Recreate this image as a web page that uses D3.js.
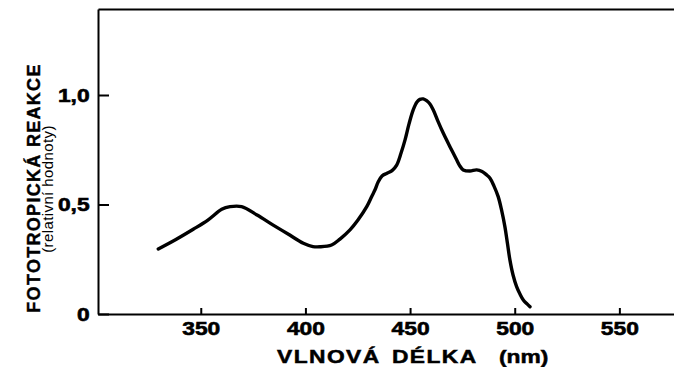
<!DOCTYPE html>
<html>
<head>
<meta charset="utf-8">
<script src="https://cdn.jsdelivr.net/npm/d3@7"></script>
<style>
  html, body { margin: 0; padding: 0; background: #fff; }
  svg { display: block; }
  text { font-family: "Liberation Sans", Arial, Helvetica, sans-serif; fill: #000; }
</style>
</head>
<body>
<svg id="chart" width="674" height="367"></svg>
<script>
// Phototropic response spectrum (relative values) vs. wavelength in nm
const wavelength = [329.7, 337.7, 346.4, 353.4, 360.0, 364.0, 369.5, 376.9, 384.6, 391.7,
  399.0, 403.6, 407.0, 412.5, 416.5, 421.3, 425.1, 429.3, 431.8, 433.2,
  434.8, 436.6, 438.8, 441.4, 443.6, 445.7, 447.6, 449.5, 451.5, 453.3,
  454.7, 456.3, 457.9, 459.5, 461.1, 463.3, 465.9, 469.1, 472.3, 473.8,
  475.4, 478.6, 481.8, 484.4, 486.6, 488.2, 490.1, 492.1, 493.7, 495.3,
  496.5, 497.7, 499.2, 500.9, 502.5, 504.1, 505.9, 507.3];
const response = [0.297, 0.338, 0.387, 0.429, 0.478, 0.490, 0.490, 0.452, 0.406, 0.365,
  0.323, 0.308, 0.307, 0.315, 0.342, 0.384, 0.429, 0.490, 0.539, 0.566,
  0.604, 0.630, 0.642, 0.655, 0.680, 0.735, 0.795, 0.868, 0.932, 0.968,
  0.980, 0.982, 0.974, 0.959, 0.932, 0.881, 0.825, 0.763, 0.703, 0.676,
  0.658, 0.653, 0.658, 0.651, 0.635, 0.620, 0.584, 0.536, 0.475, 0.399,
  0.324, 0.247, 0.178, 0.125, 0.091, 0.064, 0.046, 0.033];

const xTickValues = [350, 400, 450, 500, 550];
const xTickLabels = ["350", "400", "450", "500", "550"];
const yTickValues = [0, 0.5, 1.0];
const yTickLabels = ["0", "0,5", "1,0"];

const svg = d3.select("#chart");
const plotLeft = 98, plotRight = 674, plotTop = 9, plotBottom = 314;

const x = d3.scaleLinear().domain([300.9, 576.1]).range([plotLeft, plotRight]);
const y = d3.scaleLinear().domain([0, 1.3927]).range([plotBottom, plotTop]);

// Frame: left axis, bottom axis, top border
svg.append("g")
  .attr("transform", `translate(0,${plotBottom})`)
  .call(d3.axisBottom(x)
    .tickValues(xTickValues)
    .tickFormat((d, i) => xTickLabels[i])
    .tickSizeInner(-6).tickSizeOuter(0).tickPadding(8));

svg.append("g")
  .attr("transform", `translate(${plotLeft},0)`)
  .call(d3.axisLeft(y)
    .tickValues(yTickValues)
    .tickFormat((d, i) => yTickLabels[i])
    .tickSizeInner(-11).tickSizeOuter(0).tickPadding(7));

svg.append("g")
  .attr("transform", `translate(0,${plotTop})`)
  .call(d3.axisTop(x).tickValues([]).tickSizeOuter(0));

svg.selectAll(".domain").attr("stroke", "#000").attr("stroke-width", 2);
svg.selectAll(".tick line").attr("stroke", "#000").attr("stroke-width", 2);
// Wide, heavy numerals
svg.selectAll(".tick text")
  .attr("font-family", "'Liberation Sans', Arial, sans-serif")
  .attr("font-size", 19)
  .attr("font-weight", "bold")
  .attr("fill", "#000")
  .attr("stroke", "#000")
  .attr("stroke-width", 0.6)
  .attr("transform", "scale(1.2,1)");

// Response curve
const line = d3.line()
  .x((d, i) => x(wavelength[i]))
  .y((d, i) => y(response[i]))
  .curve(d3.curveCatmullRom.alpha(0.5));

svg.append("path")
  .datum(response)
  .attr("d", line)
  .attr("fill", "none")
  .attr("stroke", "#000")
  .attr("stroke-width", 3.4)
  .attr("stroke-linejoin", "round")
  .attr("stroke-linecap", "round");

// Axis titles
const xTitle = svg.append("text")
  .attr("transform", "translate(277,363) scale(1.2,1)")
  .attr("font-size", 19).attr("font-weight", "bold")
  .attr("stroke", "#000").attr("stroke-width", 0.5);
xTitle.append("tspan")
  .attr("x", 0)
  .attr("letter-spacing", "1.2px")
  .attr("word-spacing", "3px")
  .text("VLNOVÁ DÉLKA");
xTitle.append("tspan")
  .attr("x", 185)
  .text("(nm)");

svg.append("text")
  .attr("transform", "translate(40,188) rotate(-90)")
  .attr("text-anchor", "middle")
  .attr("font-size", 18).attr("font-weight", "bold")
  .attr("stroke", "#000").attr("stroke-width", 0.4)
  .attr("letter-spacing", "1.3px")
  .text("FOTOTROPICKÁ REAKCE");

svg.append("text")
  .attr("transform", "translate(53,189) rotate(-90)")
  .attr("text-anchor", "middle")
  .attr("font-size", 15)
  .attr("letter-spacing", "0.4px")
  .text("(relativní hodnoty)");
</script>
</body>
</html>
